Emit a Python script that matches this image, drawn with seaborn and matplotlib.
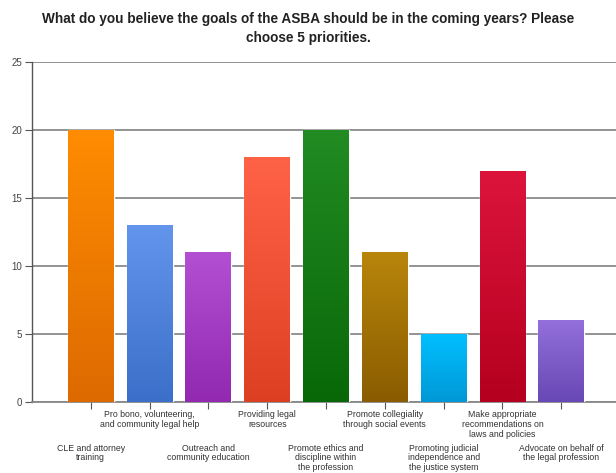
import numpy as np
import pandas as pd
import matplotlib
matplotlib.use("Agg")
import matplotlib.pyplot as plt
import matplotlib.colors as mcolors
import seaborn as sns

categories = [
    "CLE and attorney\ntraining",
    "Pro bono, volunteering,\nand community legal help",
    "Outreach and\ncommunity education",
    "Providing legal\nresources",
    "Promote ethics and\ndiscipline within\nthe profession",
    "Promote collegiality\nthrough social events",
    "Promoting judicial\nindependence and\nthe justice system",
    "Make appropriate\nrecommendations on\nlaws and policies",
    "Advocate on behalf of\nthe legal profession",
]
values = [20, 13, 11, 18, 20, 11, 5, 17, 6]
top_colors = ["#FF8C00", "#6495ED", "#B34FD3", "#FF6347", "#228B22",
              "#B8860B", "#00BFFF", "#DC143C", "#9370DB"]
bottom_colors = ["#DD6A00", "#3B6FC9", "#9229B0", "#DD3F22", "#086808",
                 "#8A5C00", "#0098D6", "#B5001F", "#6848B5"]
y_ticks = [0, 5, 10, 15, 20, 25]
title = "What do you believe the goals of the ASBA should be in the coming years? Please\nchoose 5 priorities."

df = pd.DataFrame({"cat": categories, "val": values})

sns.set_theme(style="white")
plt.rcParams['font.family'] = ['Arial', 'Liberation Sans', 'DejaVu Sans']

fig = plt.figure(figsize=(6.16, 4.73), dpi=100)
ax = fig.add_axes([32/616, 1 - 402/473, 1 - 32/616, (402 - 62)/473])

sns.barplot(data=df, x="cat", y="val", hue="cat", palette=top_colors,
            order=categories, hue_order=categories, legend=False,
            width=0.78, saturation=1, ax=ax, zorder=3)

# vertical gradients on bars (lighter at top, darker at bottom)
for patch, c_top, c_bot in zip(ax.patches, top_colors, bottom_colors):
    x0, y0 = patch.get_x(), patch.get_y()
    w, h = patch.get_width(), patch.get_height()
    ct = np.array(mcolors.to_rgb(c_top))
    cb = np.array(mcolors.to_rgb(c_bot))
    t = np.linspace(0, 1, 100)[:, None]
    grad = (ct * (1 - t) + cb * t)[:, None, :]
    im = ax.imshow(grad, extent=[x0, x0 + w, y0, y0 + h], aspect="auto",
                   origin="upper", zorder=3.5, interpolation="bilinear")
    im.set_clip_path(patch)

ax.set_xlim(-1.0, 8.93)
ax.set_ylim(0, 25)
ax.set_yticks(y_ticks)
ax.set_yticklabels([str(v) for v in y_ticks], fontsize=7, color="#444444")
ax.yaxis.grid(True, color="#8a8a8a", linewidth=1.3, zorder=0)
ax.set_axisbelow(True)

ax.set_xticks(range(len(categories)))
ax.set_xticklabels(categories, fontsize=6.3, color="#333333", linespacing=1.1)
for i, tick in enumerate(ax.xaxis.get_major_ticks()):
    tick.set_pad(1 if i % 2 == 1 else 25)

ax.tick_params(axis="x", bottom=True, length=5, width=0.8, color="#555555")
ax.tick_params(axis="y", left=True, length=5, width=0.8, color="#555555", pad=2)
ax.set_xlabel("")
ax.set_ylabel("")

for s in ["top", "right"]:
    ax.spines[s].set_visible(False)
ax.spines["left"].set_color("#555555")
ax.spines["left"].set_linewidth(1.0)
ax.spines["bottom"].set_color("#888888")
ax.spines["bottom"].set_linewidth(1.3)

fig.text(0.5, 1 - 12/473, title, ha="center", va="top", fontsize=9.8,
         fontweight="bold", color="#222222", linespacing=1.45)

fig.savefig("out.png", dpi=100)
